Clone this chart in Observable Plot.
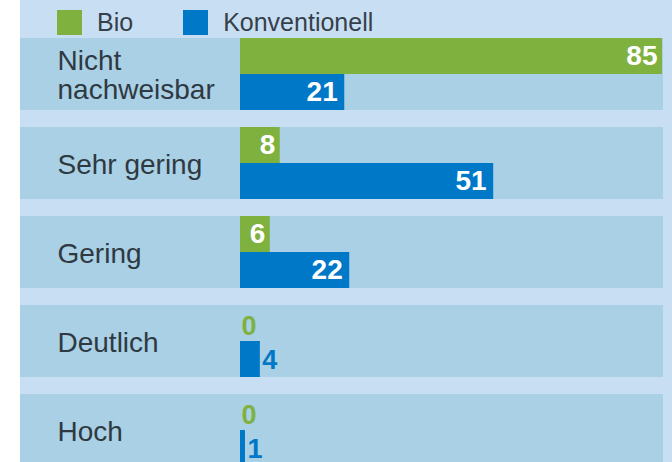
<!DOCTYPE html>
<html>
<head>
<meta charset="utf-8">
<script src="https://cdn.jsdelivr.net/npm/d3@7"></script>
<script src="https://cdn.jsdelivr.net/npm/@observablehq/plot@0.6"></script>
<style>
  html, body { margin: 0; padding: 0; }
  body {
    width: 672px; height: 462px; overflow: hidden;
    background: linear-gradient(to right, #ffffff 20px, #c8dff3 20px);
    font-family: "Liberation Sans", Arial, sans-serif;
  }
  #legend {
    height: 38px; display: flex; align-items: center;
    padding-left: 57px; box-sizing: border-box; padding-top: 7px;
    font-size: 25px; color: #36404a;
  }
  #legend .sw { width: 25px; height: 25px; margin-right: 15px; }
  #legend .item { display: flex; align-items: center; margin-right: 50px; }
  #chart svg { display: block; overflow: visible; }
</style>
</head>
<body>
<div id="legend"></div>
<div id="chart"></div>
<script>
const categories = ["Nicht nachweisbar", "Sehr gering", "Gering", "Deutlich", "Hoch"];
const categoryLabels = ["Nicht\nnachweisbar", "Sehr gering", "Gering", "Deutlich", "Hoch"];
const seriesNames = ["Bio", "Konventionell"];
const bioValues = [85, 8, 6, 0, 0];
const konvValues = [21, 51, 22, 4, 1];
const seriesColors = ["#7fb13f", "#0078c8"];

const rows = categories.flatMap((c, i) => [
  {cat: c, series: seriesNames[0], value: bioValues[i]},
  {cat: c, series: seriesNames[1], value: konvValues[i]}
]);
const cats = categories.map((c, i) => ({cat: c, label: categoryLabels[i]}));

// legend
const legend = document.getElementById("legend");
seriesNames.forEach((s, i) => {
  const item = document.createElement("div");
  item.className = "item";
  const sw = document.createElement("div");
  sw.className = "sw";
  sw.style.background = seriesColors[i];
  const t = document.createElement("span");
  t.textContent = s;
  item.appendChild(sw); item.appendChild(t);
  legend.appendChild(item);
});

const half = 36;
const isBio = d => d.series === seriesNames[0];
const inside = d => d.value >= 5;

const chart = Plot.plot({
  width: 672,
  height: 424,
  marginLeft: 20,
  marginRight: 9,
  marginTop: 0,
  marginBottom: 0,
  style: {fontFamily: "'Liberation Sans', Arial, sans-serif", background: "transparent", overflow: "visible"},
  x: {domain: [0, 85], range: [240, 662], axis: null},
  y: {domain: categories, range: [0, 428], paddingInner: 17 / 89, paddingOuter: 0, align: 0, round: false, axis: null},
  color: {domain: seriesNames, range: seriesColors},
  marks: [
    Plot.cell(cats, {y: "cat", fill: "#a9d0e5"}),
    Plot.text(cats, {y: "cat", text: "label", frameAnchor: "left", dx: 37, textAnchor: "start",
      lineAnchor: "middle", lineHeight: 1.02, fontSize: 28, fill: "#2f3942", dy: 1}),
    Plot.barX(rows.filter(isBio), {x: "value", y: "cat", fill: "series", insetBottom: half}),
    Plot.barX(rows.filter(d => !isBio(d)), {x: "value", y: "cat", fill: "series", insetTop: half}),
    Plot.text(rows.filter(d => isBio(d) && inside(d)), {x: "value", y: "cat", text: d => String(d.value),
      textAnchor: "end", dx: -5, dy: -half / 2, fill: "white", fontWeight: "bold", fontSize: 28}),
    Plot.text(rows.filter(d => !isBio(d) && inside(d)), {x: "value", y: "cat", text: d => String(d.value),
      textAnchor: "end", dx: -7, dy: half / 2, fill: "white", fontWeight: "bold", fontSize: 28}),
    Plot.text(rows.filter(d => isBio(d) && !inside(d)), {x: "value", y: "cat", text: d => String(d.value),
      textAnchor: "start", dx: 1, dy: -half / 2 + 3, fill: "series", fontWeight: "bold", fontSize: 27}),
    Plot.text(rows.filter(d => !isBio(d) && !inside(d)), {x: "value", y: "cat", text: d => String(d.value),
      textAnchor: "start", dx: 2, dy: half / 2 + 1, fill: "series", fontWeight: "bold", fontSize: 27})
  ]
});
document.getElementById("chart").appendChild(chart);
</script>
</body>
</html>
